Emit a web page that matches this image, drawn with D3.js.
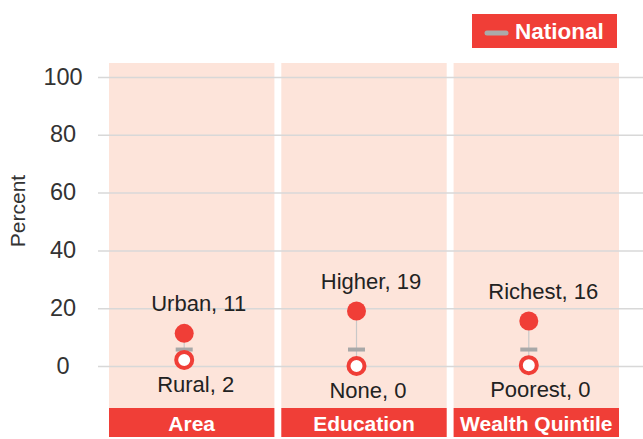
<!DOCTYPE html>
<html>
<head>
<meta charset="utf-8">
<script src="https://cdn.jsdelivr.net/npm/d3@7"></script>
<style>
  html, body { margin: 0; padding: 0; background: #fff; }
  svg { display: block; }
  text { font-family: "Liberation Sans", Arial, sans-serif; }
</style>
</head>
<body>
<svg id="chart" width="643" height="439"></svg>
<script>
// ---- data ----
const categories = ["Area", "Education", "Wealth Quintile"];
const highLabels = ["Urban", "Higher", "Richest"];
const highValues = [11.3, 19.0, 15.6];
const lowLabels = ["Rural", "None", "Poorest"];
const lowValues = [2.1, 0.0, 0.3];
const nationalValue = 5.7;
const yTicks = [0, 20, 40, 60, 80, 100];
const yLabel = "Percent";
const legendLabel = "National";

const RED = "#f03e37";
const PINK = "#fde4da";

const W = 643, H = 439;
const svg = d3.select("#chart");

const x = d3.scaleBand().domain(categories).range([109, 619]).paddingInner(0.04).paddingOuter(0);
const y = d3.scaleLinear().domain([0, 100]).range([366, 77]);

const panelTop = 63, panelBottom = 408, barBottom = 437;

// panels
svg.append("g").selectAll("rect").data(categories).join("rect")
  .attr("x", d => x(d)).attr("y", panelTop)
  .attr("width", x.bandwidth()).attr("height", panelBottom - panelTop)
  .attr("fill", PINK);

// gridlines + tick labels
const yAxis = d3.axisLeft(y).tickValues(yTicks).tickSize(-(W - 98)).tickPadding(0);
const ga = svg.append("g").attr("transform", "translate(98,0)").call(yAxis);
ga.select(".domain").remove();
ga.attr("font-family", null).attr("font-size", null);
ga.selectAll(".tick line").attr("stroke", "#d8d8d8").attr("stroke-width", 1.5);
ga.selectAll(".tick text")
  .attr("x", -35).attr("y", 0).attr("dy", null)
  .attr("transform", "translate(0,7)")
  .attr("text-anchor", "middle")
  .attr("font-size", 23.5).attr("fill", "#333");

// y label
svg.append("text")
  .attr("transform", `translate(25,211) rotate(-90)`)
  .attr("text-anchor", "middle").attr("font-size", 21).attr("fill", "#333")
  .text(yLabel);

// category label bars
svg.append("g").selectAll("rect").data(categories).join("rect")
  .attr("x", d => x(d)).attr("y", panelBottom)
  .attr("width", x.bandwidth()).attr("height", barBottom - panelBottom)
  .attr("fill", RED);
svg.append("g").selectAll("text").data(categories).join("text")
  .attr("x", d => x(d) + x.bandwidth() / 2).attr("y", 431)
  .attr("text-anchor", "middle").attr("font-size", 21).attr("font-weight", "bold")
  .attr("fill", "#fff").text(d => d);

// dots
const dotX = d => x(d) + x.bandwidth() / 2 - 7.5;
const labX = d => x(d) + x.bandwidth() / 2 + 7;

const g = svg.append("g");
categories.forEach((c, i) => {
  const cx = dotX(c);
  g.append("line")
    .attr("x1", cx).attr("x2", cx)
    .attr("y1", y(highValues[i])).attr("y2", y(lowValues[i]))
    .attr("stroke", "#c8c8c8").attr("stroke-width", 1.2);
  g.append("rect")
    .attr("x", cx - 8.5).attr("y", y(nationalValue) - 2)
    .attr("width", 17).attr("height", 4).attr("fill", "#a8a8a8");
  g.append("circle")
    .attr("cx", cx).attr("cy", y(highValues[i])).attr("r", 9.5).attr("fill", RED);
  g.append("circle")
    .attr("cx", cx).attr("cy", y(lowValues[i])).attr("r", 8)
    .attr("fill", "#fff").attr("stroke", RED).attr("stroke-width", 4);
  g.append("text")
    .attr("x", labX(c)).attr("y", y(highValues[i]) - 22)
    .attr("text-anchor", "middle").attr("font-size", 22).attr("fill", "#222")
    .text(`${highLabels[i]}, ${Math.round(highValues[i])}`);
  g.append("text")
    .attr("x", labX(c) - 3).attr("y", y(lowValues[i]) + 32)
    .attr("text-anchor", "middle").attr("font-size", 22).attr("fill", "#222")
    .text(`${lowLabels[i]}, ${Math.round(lowValues[i])}`);
});

// legend
const lg = svg.append("g");
lg.append("rect").attr("x", 472).attr("y", 14).attr("width", 145).attr("height", 34).attr("fill", RED);
lg.append("line").attr("x1", 487).attr("x2", 506).attr("y1", 33).attr("y2", 33)
  .attr("stroke", "#aaa").attr("stroke-width", 5).attr("stroke-linecap", "round");
lg.append("text").attr("x", 515).attr("y", 39).attr("font-size", 22.5).attr("font-weight", "bold")
  .attr("fill", "#fff").text(legendLabel);
</script>
</body>
</html>
